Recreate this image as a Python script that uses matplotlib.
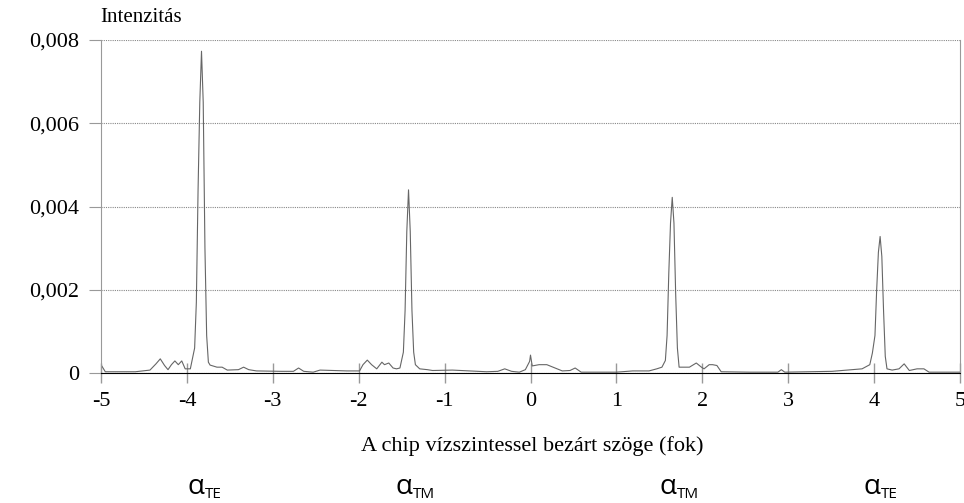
import numpy as np
import matplotlib.pyplot as plt

angle = [-5.00, -4.95, -4.60, -4.43, -4.36, -4.31, -4.26, -4.22, -4.18, -4.14,
         -4.10, -4.06, -4.02, -3.96, -3.91, -3.89, -3.87, -3.85, -3.83, -3.81,
         -3.79, -3.77, -3.75, -3.73, -3.65, -3.59, -3.53, -3.40, -3.34, -3.28,
         -3.19, -2.90, -2.76, -2.70, -2.64, -2.53, -2.45, -2.14, -1.99, -1.95,
         -1.90, -1.85, -1.79, -1.73, -1.70, -1.65, -1.60, -1.56, -1.52, -1.48,
         -1.46, -1.44, -1.42, -1.40, -1.38, -1.36, -1.34, -1.29, -1.20, -1.14,
         -0.91, -0.51, -0.38, -0.30, -0.22, -0.13, -0.06, -0.01, 0.00, 0.02,
         0.10, 0.19, 0.37, 0.46, 0.52, 0.59, 1.00, 1.19, 1.38, 1.47,
         1.53, 1.57, 1.59, 1.61, 1.63, 1.65, 1.67, 1.69, 1.71, 1.73,
         1.80, 1.85, 1.93, 1.99, 2.02, 2.08, 2.12, 2.17, 2.22, 2.55,
         2.88, 2.92, 2.96, 3.51, 3.86, 3.95, 3.98, 4.01, 4.03, 4.05,
         4.07, 4.09, 4.11, 4.13, 4.15, 4.21, 4.29, 4.35, 4.41, 4.50,
         4.58, 4.64, 5.00]
intensity = [0.00020, 0.00003, 0.00003, 0.00007, 0.00022, 0.00034, 0.00018, 0.00008, 0.00020, 0.00029,
             0.00020, 0.00029, 0.00010, 0.00010, 0.00060, 0.00170, 0.00440, 0.00650, 0.00773, 0.00650,
             0.00300, 0.00090, 0.00026, 0.00019, 0.00014, 0.00014, 0.00007, 0.00008, 0.00014, 0.00008,
             0.00005, 0.00004, 0.00004, 0.00012, 0.00004, 0.00002, 0.00007, 0.00005, 0.00005, 0.00020,
             0.00031, 0.00020, 0.00010, 0.00026, 0.00020, 0.00024, 0.00012, 0.00010, 0.00012, 0.00050,
             0.00150, 0.00340, 0.00440, 0.00340, 0.00150, 0.00050, 0.00020, 0.00010, 0.00008, 0.00006,
             0.00007, 0.00003, 0.00004, 0.00010, 0.00004, 0.00002, 0.00008, 0.00028, 0.00043, 0.00017,
             0.00020, 0.00020, 0.00005, 0.00006, 0.00012, 0.00002, 0.00002, 0.00005, 0.00005, 0.00010,
             0.00014, 0.00030, 0.00090, 0.00240, 0.00360, 0.00422, 0.00360, 0.00190, 0.00060, 0.00014,
             0.00014, 0.00014, 0.00024, 0.00014, 0.00010, 0.00020, 0.00020, 0.00018, 0.00003, 0.00002,
             0.00002, 0.00008, 0.00002, 0.00004, 0.00010, 0.00020, 0.00048, 0.00090, 0.00200, 0.00290,
             0.00328, 0.00280, 0.00150, 0.00040, 0.00010, 0.00007, 0.00010, 0.00022, 0.00006, 0.00010,
             0.00010, 0.00002, 0.00002]

xticks = [-5, -4, -3, -2, -1, 0, 1, 2, 3, 4, 5]
yticks = [0, 0.002, 0.004, 0.006, 0.008]
ytick_labels = ['0', '0,002', '0,004', '0,006', '0,008']

# mode labels under the peaks: (subscript, x pixel)
modes = [('TE', 196), ('TM', 404), ('TM', 668), ('TE', 872)]

W, H = 964, 503
fig = plt.figure(figsize=(W / 100, H / 100), dpi=100)
ax = fig.add_axes([101 / W, 1 - 373 / H, (960 - 101) / W, (373 - 40) / H])

ax.plot(angle, intensity, color='#666666', lw=0.8)
ax.set_xlim(-5, 5)
ax.set_ylim(0, 0.008)

ax.set_xticks(xticks)
ax.set_xticklabels([str(t) for t in xticks])
ax.set_yticks(yticks)
ax.set_yticklabels(ytick_labels)

serif = 'Liberation Serif'
for lab in ax.get_xticklabels() + ax.get_yticklabels():
    lab.set_fontfamily(serif)
    lab.set_fontsize(16)

ax.tick_params(axis='x', direction='inout', length=14, width=1, color='#999999', pad=7)
ax.tick_params(axis='y', direction='out', length=9, width=0.8, color='#999999', pad=7)

ax.grid(axis='y', color='#888888', linestyle=(0, (1, 1)), lw=0.8)
ax.spines['top'].set_visible(False)
ax.spines['left'].set_color('#999999')
ax.spines['right'].set_color('#999999')
ax.spines['bottom'].set_color('black')
ax.spines['bottom'].set_linestyle((0, (1, 1)))

fig.text(100 / W, 1 - 18 / H, 'Intenzitás', family=serif, fontsize=15,
         ha='left', va='center')
fig.text(532 / W, 1 - 446 / H, 'A chip vízszintessel bezárt szöge (fok)',
         family=serif, fontsize=16, ha='center', va='center')

for sub, px in modes:
    fig.text(px / W, 1 - 487 / H, 'α', family='Open Sans', fontsize=20,
             ha='center', va='center')
    fig.text((px + 9) / W, 1 - 494 / H, sub, family='Open Sans', fontsize=11,
             ha='left', va='center')

fig.savefig('out.png', dpi=100)
